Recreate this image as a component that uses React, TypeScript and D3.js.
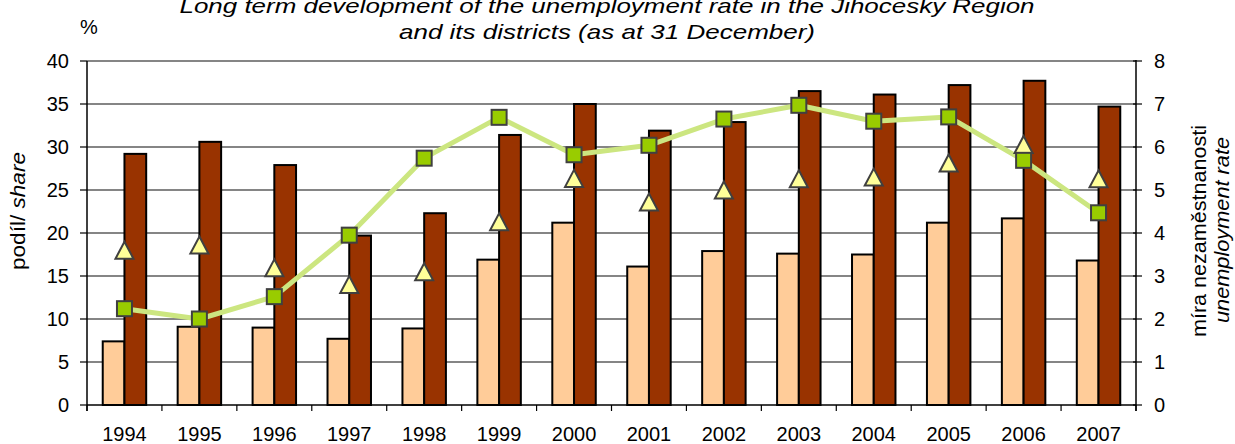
import React from "react";
import * as d3 from "d3";

const years = ["1994","1995","1996","1997","1998","1999","2000","2001","2002","2003","2004","2005","2006","2007"];
// left axis (share, %)
const shareLight = [7.4, 9.1, 9.0, 7.7, 8.9, 16.9, 21.2, 16.1, 17.9, 17.6, 17.5, 21.2, 21.7, 16.8];
const shareDark = [29.2, 30.6, 27.9, 19.7, 22.3, 31.4, 35.0, 31.9, 32.9, 36.5, 36.1, 37.2, 37.7, 34.7];
// right axis (unemployment rate)
const rateTriangle = [3.6, 3.72, 3.19, 2.8, 3.1, 4.26, 5.27, 4.72, 5.0, 5.26, 5.3, 5.63, 6.06, 5.26];
const rateRegion = [2.24, 2.0, 2.52, 3.95, 5.74, 6.69, 5.82, 6.04, 6.65, 6.97, 6.6, 6.7, 5.69, 4.47];
const leftTicks = [0, 5, 10, 15, 20, 25, 30, 35, 40];
const rightTicks = [0, 1, 2, 3, 4, 5, 6, 7, 8];

const W = 1235, H = 444;
const L = 87, R = 1136, T = 61, B = 405;
const FONT = "'Liberation Sans', Arial, Helvetica, sans-serif";

export default function App() {
  const x = d3.scaleBand<string>().domain(years).range([L, R]).paddingInner(0).paddingOuter(0);
  const yL = d3.scaleLinear().domain([0, 40]).range([B, T]);
  const yR = d3.scaleLinear().domain([0, 8]).range([B, T]);
  const bw = x.bandwidth();
  const barW = bw * 0.29;
  const cx = (y: string) => (x(y) as number) + bw / 2;
  const line = d3.line<number>().x((_, i) => cx(years[i])).y((v) => yR(v));
  const boundaries = d3.range(years.length + 1).map((i) => L + i * bw);

  return (
    <svg width={W} height={H} style={{ position: "absolute", left: 0, top: 0, background: "#fff" }} fontFamily={FONT}>
      <rect width={W} height={H} fill="#fff" />
      {/* title */}
      <text x={607} y={13} textAnchor="middle" fontSize={21} fontStyle="italic" textLength={855} lengthAdjust="spacingAndGlyphs">
        Long term development of the unemployment rate in the Jihocesky Region
      </text>
      <text x={607} y={39} textAnchor="middle" fontSize={21} fontStyle="italic" textLength={416} lengthAdjust="spacingAndGlyphs">
        and its districts (as at 31 December)
      </text>
      <text x={80} y={34} fontSize={20}>%</text>

      {/* gridlines */}
      {leftTicks.filter((t) => t > 0).map((t) => (
        <line key={"g" + t} x1={L} x2={R} y1={yL(t)} y2={yL(t)} stroke="#858585" strokeWidth={2} />
      ))}

      {/* bars */}
      {years.map((yr, i) => (
        <g key={"b" + yr}>
          <rect x={cx(yr) - barW} y={yL(shareLight[i])} width={barW} height={B - yL(shareLight[i])} fill="#FFCC99" stroke="#000" strokeWidth={2} />
          <rect x={cx(yr)} y={yL(shareDark[i])} width={barW} height={B - yL(shareDark[i])} fill="#993300" stroke="#000" strokeWidth={2} />
        </g>
      ))}

      {/* axes */}
      <line x1={L} x2={L} y1={T} y2={B + 6} stroke="#000" strokeWidth={1.5} />
      <line x1={R} x2={R} y1={T - 1} y2={B + 6} stroke="#000" strokeWidth={1.5} />
      <line x1={L} x2={R} y1={B} y2={B} stroke="#000" strokeWidth={1.5} />
      {leftTicks.map((t) => (
        <g key={"lt" + t}>
          <line x1={L - 7} x2={L} y1={yL(t)} y2={yL(t)} stroke="#000" strokeWidth={1.2} />
          <text x={69} y={yL(t)} dy="0.35em" textAnchor="end" fontSize={20}>{t}</text>
        </g>
      ))}
      {rightTicks.map((t) => (
        <g key={"rt" + t}>
          <line x1={R - 3} x2={R + 6} y1={yR(t)} y2={yR(t)} stroke="#000" strokeWidth={1.2} />
          <text x={1154} y={yR(t)} dy="0.35em" textAnchor="start" fontSize={20}>{t}</text>
        </g>
      ))}
      {boundaries.map((bx, i) => (
        <line key={"bt" + i} x1={bx} x2={bx} y1={B} y2={B + 6} stroke="#000" strokeWidth={1.2} />
      ))}
      {years.map((yr) => (
        <text key={"yl" + yr} x={cx(yr)} y={441} textAnchor="middle" fontSize={20}>{yr}</text>
      ))}

      {/* axis titles */}
      <text transform={`translate(25,211) rotate(-90)`} textAnchor="middle" fontSize={20} textLength={118} lengthAdjust="spacingAndGlyphs">
        podíl/ <tspan fontStyle="italic">share</tspan>
      </text>
      <text transform={`translate(1206,231) rotate(-90)`} textAnchor="middle" fontSize={20} textLength={212} lengthAdjust="spacingAndGlyphs">
        míra nezaměstnanosti
      </text>
      <text transform={`translate(1229,230) rotate(-90)`} textAnchor="middle" fontSize={20} fontStyle="italic" textLength={186} lengthAdjust="spacingAndGlyphs">
        unemployment rate
      </text>

      {/* line + markers */}
      <path d={line(rateRegion) as string} fill="none" stroke="#CCE680" strokeWidth={5} strokeLinejoin="round" />
      {years.map((yr, i) => {
        const px = cx(yr), py = yR(rateTriangle[i]);
        return (
          <path key={"tr" + yr} d={`M${px},${py - 8.5}L${px + 9},${py + 8.5}L${px - 9},${py + 8.5}Z`} fill="#FFFF99" stroke="#404040" strokeWidth={2} strokeLinejoin="miter" />
        );
      })}
      {years.map((yr, i) => (
        <rect key={"sq" + yr} x={cx(yr) - 7.5} y={yR(rateRegion[i]) - 7.5} width={15} height={15} fill="#99CC00" stroke="#404040" strokeWidth={2} />
      ))}
    </svg>
  );
}
